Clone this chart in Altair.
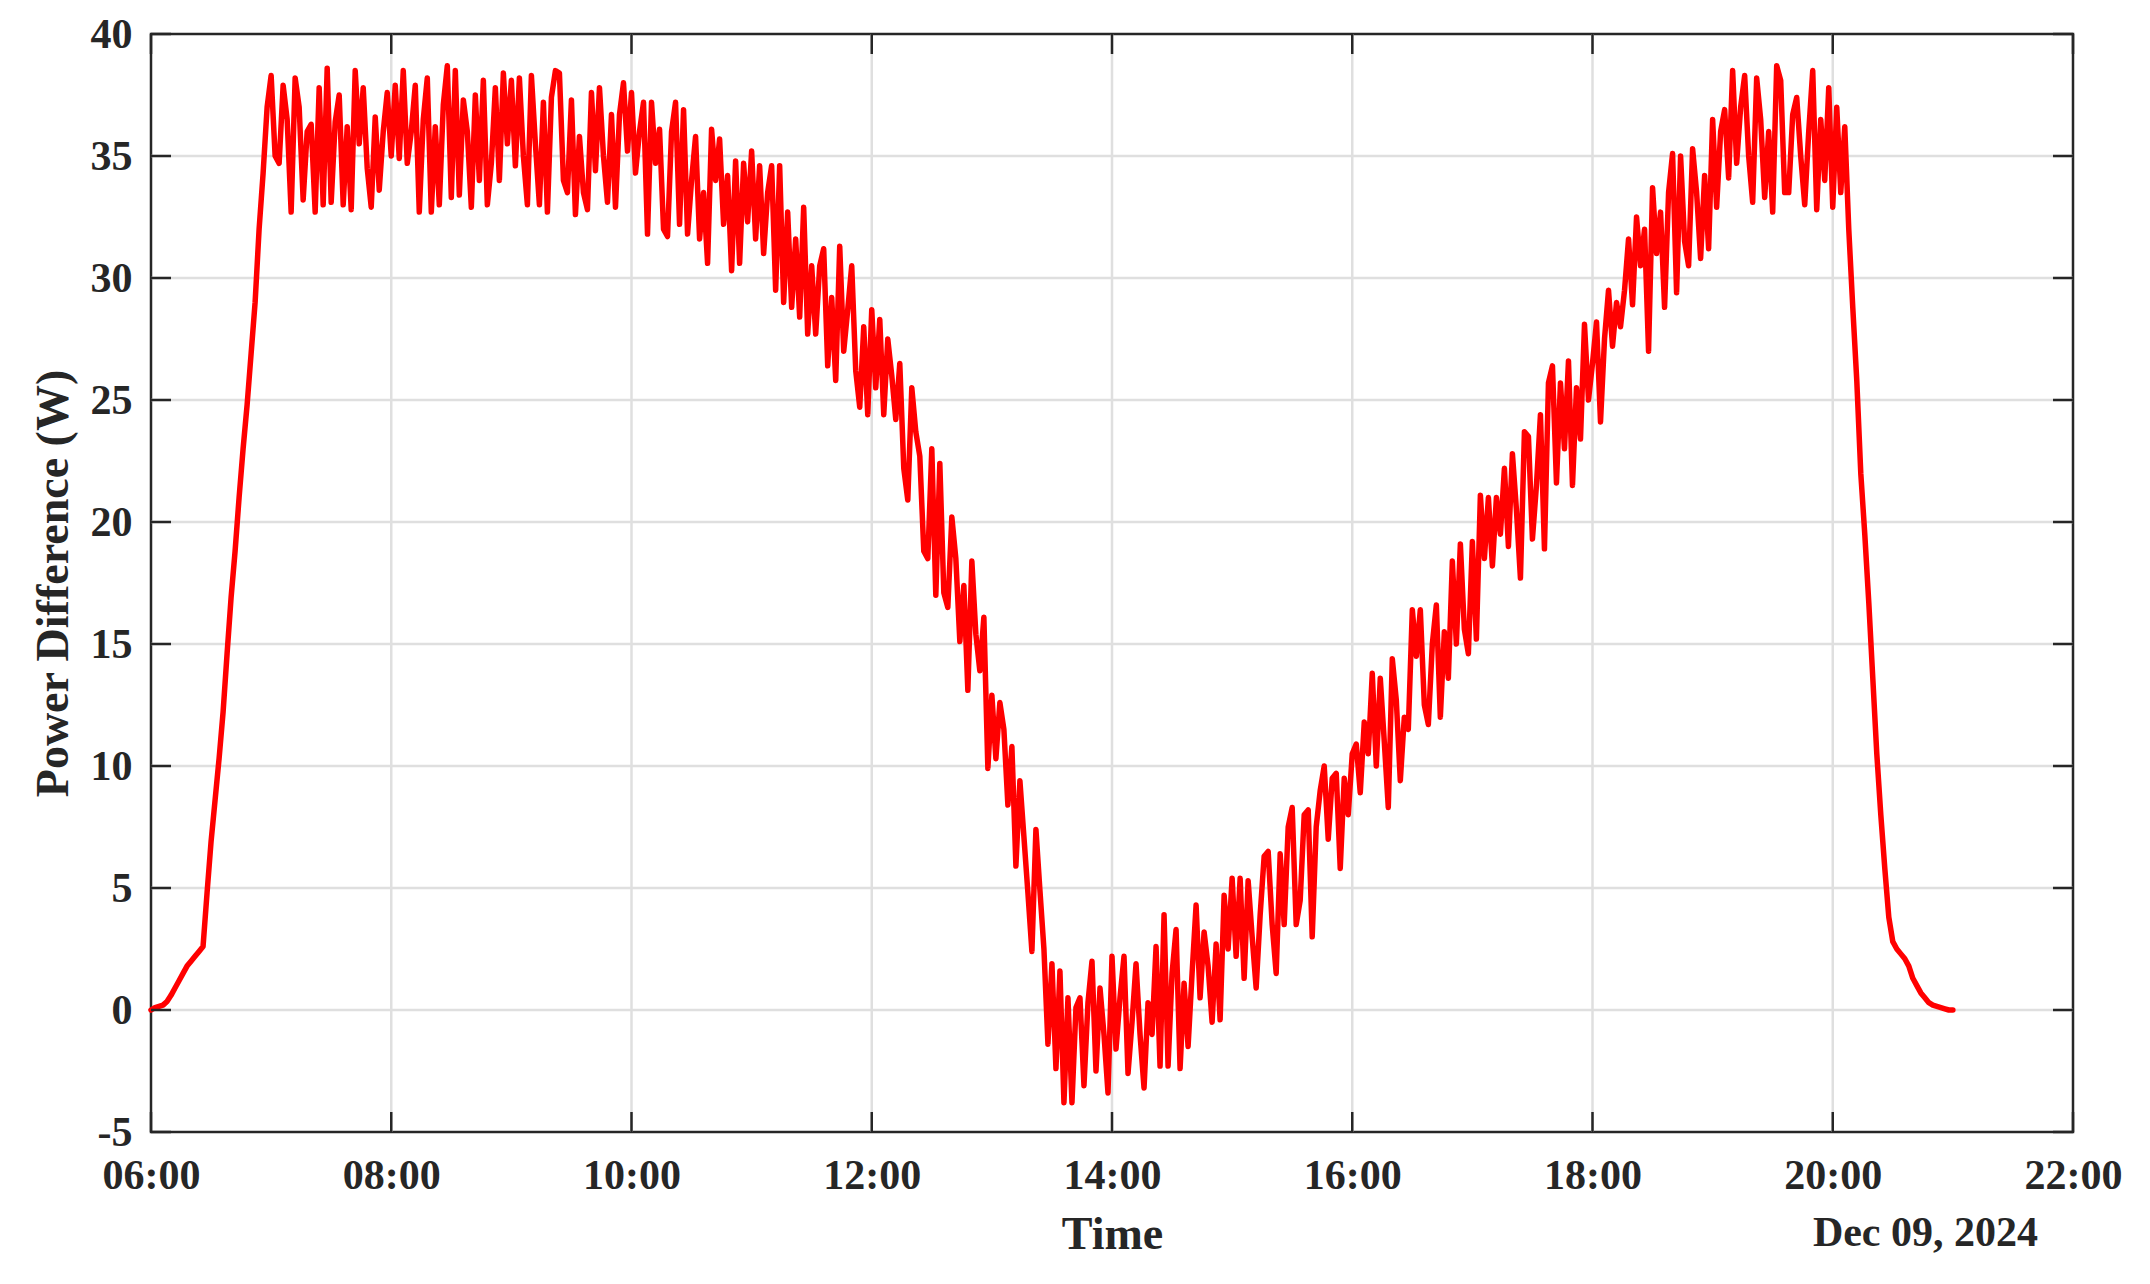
import altair as alt
import pandas as pd

# ---------------- data ----------------
x_tick_labels = ["06:00", "08:00", "10:00", "12:00", "14:00", "16:00", "18:00", "20:00", "22:00"]
y_ticks = [-5, 0, 5, 10, 15, 20, 25, 30, 35, 40]
date_label = "Dec 09, 2024"

# samples every 2 minutes starting at 06:00
ramp_up = [0.0, 0.1, 0.15, 0.2, 0.35, 0.6, 0.9, 1.2, 1.5, 1.8,
           2.0, 2.2, 2.4, 2.6, 4.8, 6.9, 8.6, 10.3, 12.2, 14.6,
           16.9, 18.8, 21.0, 23.0, 24.8, 26.9, 29.0, 32.0, 34.3, 37.0]
morning = [38.3, 35.0, 34.7, 37.9, 36.5, 32.7, 38.2, 37.0, 33.2, 36.0,
           36.3, 32.7, 37.8, 33.0, 38.6, 33.1, 36.4, 37.5, 33.0, 36.2,
           32.8, 38.5, 35.5, 37.8, 34.5, 32.9, 36.6, 33.6, 36.0, 37.6,
           35.0, 37.9, 34.9, 38.5, 34.7, 36.0, 37.9, 32.7, 36.5, 38.2,
           32.7, 36.2, 33.0, 37.1, 38.7, 33.3, 38.5, 33.4, 37.3, 36.0,
           32.9, 37.5, 34.0, 38.1, 33.0, 34.7, 37.8, 34.0, 38.4, 35.5,
           38.1, 34.6, 38.2, 35.0, 33.0, 38.3]
late_morning = [35.5, 33.0, 37.2, 32.7, 37.4, 38.5, 38.4, 34.0, 33.5, 37.3,
                32.6, 35.8, 33.5, 32.8, 37.6, 34.4, 37.8, 35.0, 33.1, 36.7,
                32.9, 36.7, 38.0, 35.2, 37.6, 34.3, 36.0, 37.2, 31.8, 37.2,
                34.7, 36.1, 32.0, 31.7, 36.0, 37.2, 32.2, 36.9, 31.8, 34.0,
                35.8, 31.6, 33.5, 30.6, 36.1, 34.0, 35.7, 32.2, 34.2, 30.3,
                34.8, 30.6, 34.7, 32.3, 35.2, 31.6, 34.6, 31.0, 33.5, 34.6,
                29.5, 34.6, 29.0, 32.7, 28.8, 31.6, 28.4, 32.9, 27.7]
midday = [30.5, 27.7, 30.5, 31.2, 26.4, 29.2, 25.8, 31.3, 27.0, 28.7,
          30.5, 26.2, 24.7, 28.0, 24.4, 28.7, 25.5, 28.3, 24.4, 27.5,
          26.0, 24.2, 26.5, 22.2, 20.9, 25.5, 23.7, 22.7, 18.8, 18.5,
          23.0, 17.0, 22.4, 17.1, 16.5, 20.2, 18.5, 15.1, 17.4, 13.1,
          18.4, 15.4, 13.9, 16.1, 9.9, 12.9, 10.3, 12.6, 11.5, 8.4,
          10.8, 5.9, 9.4, 7.1, 4.8, 2.4, 7.4, 4.9, 2.5, -1.4,
          1.9, -2.4, 1.6, -3.8, 0.5, -3.8, 0.1, 0.5]
afternoon_low = [-3.1, 0.3, 2.0, -2.5, 0.9, -1.0, -3.4, 2.2, -1.6, 0.5,
                 2.2, -2.6, -0.5, 1.9, -1.0, -3.2, 0.3, -1.0, 2.6, -2.3,
                 3.9, -2.3, 1.5, 3.3, -2.4, 1.1, -1.5, 1.5, 4.3, 0.5,
                 3.2, 1.8, -0.5, 2.7, -0.4, 4.7, 2.5, 5.4, 2.2, 5.4,
                 1.3, 5.3, 3.0, 0.9, 3.9, 6.3, 6.5, 3.5, 1.5, 6.4,
                 3.5, 7.5, 8.3, 3.5, 4.5, 8.0, 8.2, 3.0, 7.5, 9.0,
                 10.0, 7.0, 9.5, 9.7, 5.8, 9.5, 8.0, 10.5]
afternoon_rise = [10.9, 8.9, 11.8, 10.5, 13.8, 10.0, 13.6, 11.0, 8.3, 14.4,
                  12.7, 9.4, 12.0, 11.5, 16.4, 14.5, 16.4, 12.5, 11.7, 15.0,
                  16.6, 12.0, 15.5, 13.6, 18.4, 15.0, 19.1, 15.6, 14.6, 19.2,
                  15.2, 21.1, 18.5, 21.0, 18.2, 21.0, 19.5, 22.2, 19.0, 22.8,
                  20.5, 17.7, 23.7, 23.5, 19.3, 21.5, 24.4, 18.9, 25.7, 26.4,
                  21.6, 25.7, 23.0, 26.6, 21.5, 25.5, 23.4, 28.1, 25.0, 26.5,
                  28.2, 24.1, 27.5, 29.5, 27.2, 29.0, 28.0]
evening = [29.5, 31.6, 28.9, 32.5, 30.5, 32.0, 27.0, 33.7, 31.0, 32.7,
           28.8, 33.5, 35.1, 29.4, 35.0, 31.5, 30.5, 35.3, 33.5, 30.8,
           34.2, 31.2, 36.5, 32.9, 36.0, 36.9, 34.1, 38.5, 34.7, 37.0,
           38.3, 35.0, 33.1, 38.2, 36.5, 33.3, 36.0, 32.7, 38.7, 38.1,
           33.5, 33.5, 36.7, 37.4, 35.0, 33.0, 36.0, 38.5, 32.8, 36.5,
           34.0, 37.8, 32.9, 37.0, 33.5, 36.2]
ramp_down = [32.0, 28.8, 25.8, 22.0, 19.5, 16.7, 13.6, 10.5, 8.0, 5.8,
             3.8, 2.8, 2.5, 2.3, 2.1, 1.8, 1.3, 1.0, 0.7, 0.5,
             0.3, 0.2, 0.15, 0.1, 0.05, 0.0, 0.0]

values = ramp_up + morning + late_morning + midday + afternoon_low + afternoon_rise + evening + ramp_down
times = pd.date_range("2024-12-09 06:00", periods=len(values), freq="2min")
df = pd.DataFrame({"time": times.strftime("%Y-%m-%dT%H:%M:%S"), "power": values})

# ---------------- layout / style ----------------
W, H = 1922, 1098
FONT = "Liberation Serif"
INK = "#262626"
GRID = "#dfdfdf"
TICK_LEN = 20


def dt(hhmm):
    h, m = map(int, hhmm.split(":"))
    return alt.DateTime(year=2024, month=12, date=9, hours=h, minutes=m)


x_tick_iso = ["2024-12-09T" + t + ":00" for t in x_tick_labels]
xt_all = pd.DataFrame({"time": x_tick_iso})
xt_inner = pd.DataFrame({"time": x_tick_iso[1:-1]})
yt_all = pd.DataFrame({"power": y_ticks})
yt_inner = pd.DataFrame({"power": y_ticks[1:-1]})

xscale = alt.Scale(domain=[dt(x_tick_labels[0]), dt(x_tick_labels[-1])])
yscale = alt.Scale(domain=[y_ticks[0], y_ticks[-1]], nice=False, zero=False)

x_axis = alt.Axis(values=[dt(t) for t in x_tick_labels], format="%H:%M",
                  grid=False, ticks=False, domain=False,
                  labelFont=FONT, labelFontWeight="bold", labelFontSize=42,
                  labelColor=INK, labelPadding=23, labelFlush=False,
                  labelOverlap=False,
                  title="Time", titleFont=FONT, titleFontWeight="bold",
                  titleFontSize=46, titleColor=INK,
                  titleBaseline="alphabetic", titleY=116)
y_axis = alt.Axis(values=y_ticks, labelExpr="datum.value + ''",
                  grid=False, ticks=False, domain=False,
                  labelFont=FONT, labelFontWeight="bold", labelFontSize=42,
                  labelColor=INK, labelPadding=19, labelOverlap=False,
                  labelFlush=False,
                  title="Power Difference (W)", titleFont=FONT,
                  titleFontWeight="bold", titleFontSize=46, titleColor=INK,
                  titleBaseline="alphabetic", titleX=-84, titleY=H / 2)

X = alt.X("time:T", scale=xscale, axis=x_axis)
Y = alt.Y("power:Q", scale=yscale, axis=y_axis)

# grid lines (interior only so they do not cover the frame)
grid_v = alt.Chart(xt_inner).mark_rule(color=GRID, strokeWidth=2.5).encode(
    x=X, y=alt.value(0), y2=alt.value(H))
grid_h = alt.Chart(yt_inner).mark_rule(color=GRID, strokeWidth=2.5).encode(
    y=Y, x=alt.value(0), x2=alt.value(W))

line = alt.Chart(df).mark_line(color="#ff0000", strokeWidth=5.5,
                               strokeJoin="round", strokeCap="round").encode(x=X, y=Y)

# inward tick marks on all four sides
tick_style = dict(color=INK, strokeWidth=2.5)
ticks_bottom = alt.Chart(xt_all).mark_rule(**tick_style).encode(
    x=X, y=alt.value(H - TICK_LEN), y2=alt.value(H))
ticks_top = alt.Chart(xt_all).mark_rule(**tick_style).encode(
    x=X, y=alt.value(0), y2=alt.value(TICK_LEN))
ticks_left = alt.Chart(yt_all).mark_rule(**tick_style).encode(
    y=Y, x=alt.value(0), x2=alt.value(TICK_LEN))
ticks_right = alt.Chart(yt_all).mark_rule(**tick_style).encode(
    y=Y, x=alt.value(W - TICK_LEN), x2=alt.value(W))

date_text = alt.Chart(pd.DataFrame({"t": [date_label]})).mark_text(
    align="right", baseline="alphabetic", font=FONT, fontWeight="bold",
    fontSize=42, color=INK).encode(
    text="t:N", x=alt.value(1887), y=alt.value(1212))

chart = alt.layer(grid_v, grid_h, line, ticks_bottom, ticks_top, ticks_left,
                  ticks_right, date_text).properties(
    width=W, height=H,
    autosize=alt.AutoSizeParams(type="none"),
    padding={"left": 143, "top": 26, "right": 60, "bottom": 130},
).configure_view(stroke=INK, strokeWidth=2.5)

chart.save("out.html", embed_options={"renderer": "svg", "actions": False})
